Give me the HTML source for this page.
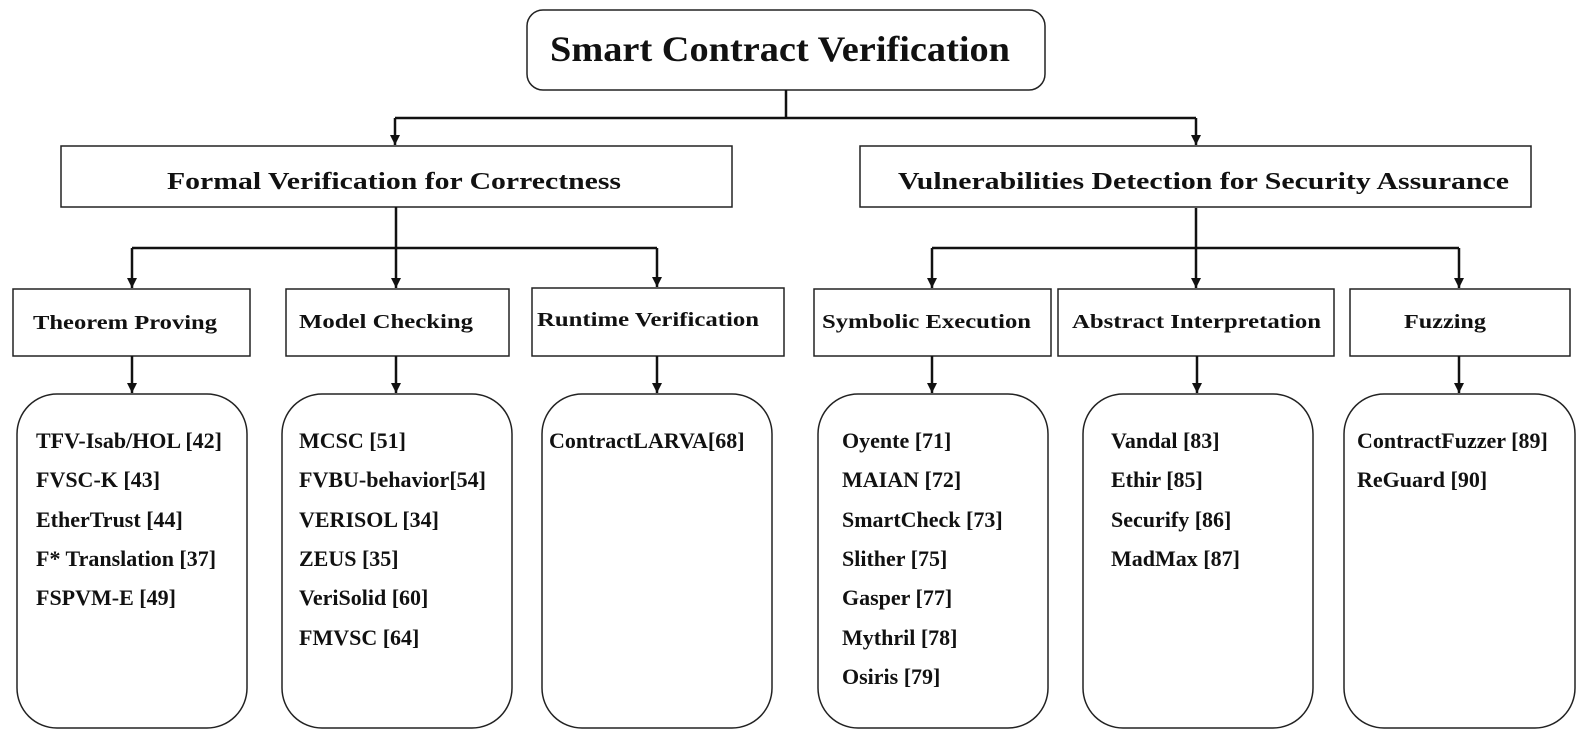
<!DOCTYPE html>
<html><head><meta charset="utf-8"><style>
html,body{margin:0;padding:0;background:#fff;}
svg{display:block;}
text{font-family:"Liberation Serif",serif;font-weight:bold;fill:#111;}
</style></head><body>
<svg width="1588" height="746" viewBox="0 0 1588 746" xmlns="http://www.w3.org/2000/svg">
<defs><marker id="a" markerWidth="11" markerHeight="10" refX="10" refY="5" orient="auto" markerUnits="userSpaceOnUse">
<path d="M0,0 L10,5 L0,10 z" fill="#111"/></marker></defs>
<g stroke="#222" stroke-width="1.5" fill="none">
<rect x="527" y="10" width="518" height="80" rx="16"/>
<rect x="61" y="146" width="671" height="61"/>
<rect x="860" y="146" width="671" height="61"/>
<rect x="13" y="289" width="237" height="67"/>
<rect x="286" y="289" width="223" height="67"/>
<rect x="532" y="288" width="252" height="68"/>
<rect x="814" y="289" width="237" height="67"/>
<rect x="1058" y="289" width="276" height="67"/>
<rect x="1350" y="289" width="220" height="67"/>
<rect x="17" y="394" width="230" height="334" rx="40"/>
<rect x="282" y="394" width="230" height="334" rx="40"/>
<rect x="542" y="394" width="230" height="334" rx="40"/>
<rect x="818" y="394" width="230" height="334" rx="40"/>
<rect x="1083" y="394" width="230" height="334" rx="40"/>
<rect x="1344" y="394" width="231" height="334" rx="40"/>
</g>
<g stroke="#111" stroke-width="2.5" fill="none">
<path d="M786,90 V118 M395,118 H1196"/>
<path d="M395,118 V145" marker-end="url(#a)"/>
<path d="M1196,118 V145" marker-end="url(#a)"/>
<path d="M396,207 V248 M132,248 H657"/>
<path d="M132,248 V288" marker-end="url(#a)"/>
<path d="M396,248 V288" marker-end="url(#a)"/>
<path d="M657,248 V287" marker-end="url(#a)"/>
<path d="M1196,208 V248 M932,248 H1459"/>
<path d="M932,248 V288" marker-end="url(#a)"/>
<path d="M1196,248 V288" marker-end="url(#a)"/>
<path d="M1459,248 V288" marker-end="url(#a)"/>
<path d="M132,356 V393" marker-end="url(#a)"/>
<path d="M396,356 V393" marker-end="url(#a)"/>
<path d="M657,356 V393" marker-end="url(#a)"/>
<path d="M932,356 V393" marker-end="url(#a)"/>
<path d="M1197,356 V393" marker-end="url(#a)"/>
<path d="M1459,356 V393" marker-end="url(#a)"/>
</g>
<text x="550" y="61" font-size="36" textLength="460" lengthAdjust="spacingAndGlyphs">Smart Contract Verification</text>
<text x="167" y="189" font-size="24" textLength="454" lengthAdjust="spacingAndGlyphs">Formal Verification for Correctness</text>
<text x="898" y="189" font-size="24" textLength="611" lengthAdjust="spacingAndGlyphs">Vulnerabilities Detection for Security Assurance</text>
<g font-size="20">
<text x="33" y="329" textLength="184" lengthAdjust="spacingAndGlyphs">Theorem Proving</text>
<text x="299" y="328" textLength="174" lengthAdjust="spacingAndGlyphs">Model Checking</text>
<text x="537" y="326" textLength="222" lengthAdjust="spacingAndGlyphs">Runtime Verification</text>
<text x="822" y="328" textLength="209" lengthAdjust="spacingAndGlyphs">Symbolic Execution</text>
<text x="1072" y="328" textLength="249" lengthAdjust="spacingAndGlyphs">Abstract Interpretation</text>
<text x="1404" y="328" textLength="82" lengthAdjust="spacingAndGlyphs">Fuzzing</text>
</g>
<g font-size="22">
<text x="36" y="448">TFV-Isab/HOL [42]</text>
<text x="36" y="487">FVSC-K [43]</text>
<text x="36" y="527">EtherTrust [44]</text>
<text x="36" y="566">F* Translation [37]</text>
<text x="36" y="605">FSPVM-E [49]</text>
<text x="299" y="448">MCSC [51]</text>
<text x="299" y="487">FVBU-behavior[54]</text>
<text x="299" y="527">VERISOL [34]</text>
<text x="299" y="566">ZEUS [35]</text>
<text x="299" y="605">VeriSolid [60]</text>
<text x="299" y="645">FMVSC [64]</text>
<text x="549" y="448">ContractLARVA[68]</text>
<text x="842" y="448">Oyente [71]</text>
<text x="842" y="487">MAIAN [72]</text>
<text x="842" y="527">SmartCheck [73]</text>
<text x="842" y="566">Slither [75]</text>
<text x="842" y="605">Gasper [77]</text>
<text x="842" y="645">Mythril [78]</text>
<text x="842" y="684">Osiris [79]</text>
<text x="1111" y="448">Vandal [83]</text>
<text x="1111" y="487">Ethir [85]</text>
<text x="1111" y="527">Securify [86]</text>
<text x="1111" y="566">MadMax [87]</text>
<text x="1357" y="448">ContractFuzzer [89]</text>
<text x="1357" y="487">ReGuard [90]</text>
</g>
</svg>
</body></html>
